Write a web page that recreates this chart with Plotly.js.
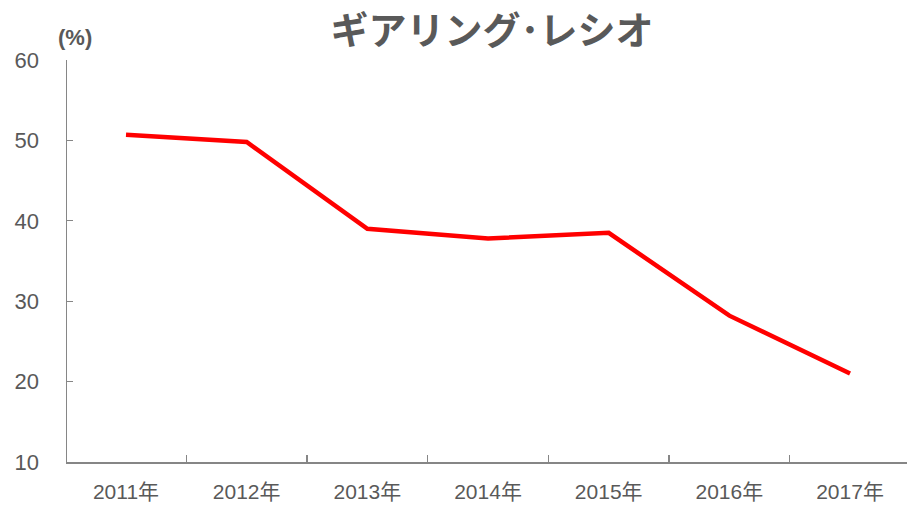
<!DOCTYPE html>
<html>
<head>
<meta charset="utf-8">
<script src="https://cdn.plot.ly/plotly-3.0.1.min.js"></script>
<style>html,body{margin:0;padding:0;overflow:hidden;background:#fff;}</style>
</head>
<body>
<div id="chart" style="width:907px;height:505px;"></div>
<script>
const years = ["2011年", "2012年", "2013年", "2014年", "2015年", "2016年", "2017年"];
const gearingRatio = [50.7, 49.8, 39.0, 37.8, 38.5, 28.2, 21.0];
const yTicks = [10, 20, 30, 40, 50, 60];
const titleText = "ギアリング･レシオ";
const unitText = "(%)";

const grey = "#595959";
const axisGrey = "#868686";

Plotly.newPlot("chart", [{
  type: "scatter",
  mode: "lines",
  x: years,
  y: gearingRatio,
  line: {color: "#ff0000", width: 4.5},
  hoverinfo: "skip"
}], {
  width: 907, height: 505,
  margin: {l: 67, r: 0, t: 60, b: 43},
  paper_bgcolor: "#ffffff",
  plot_bgcolor: "#ffffff",
  showlegend: false,
  title: {
    text: titleText,
    font: {family: "Noto Sans CJK JP", size: 38, color: grey, weight: 700},
    x: 492 / 907, xref: "container", xanchor: "center",
    y: 1 - 31 / 505, yref: "container", yanchor: "middle"
  },
  xaxis: {
    type: "category",
    range: [-0.489, 6.472],
    tickson: "boundaries",
    ticks: "inside", ticklen: 7, tickwidth: 1.3, tickcolor: axisGrey,
    showline: true, linecolor: axisGrey, linewidth: 1.5,
    showgrid: false, zeroline: false,
    tickfont: {family: "Liberation Sans, Noto Sans CJK JP", size: 21, color: grey},
    ticklabelstandoff: 10
  },
  yaxis: {
    range: [10, 60],
    tickvals: yTicks,
    ticks: "inside", ticklen: 6, tickwidth: 1.3, tickcolor: axisGrey,
    showline: true, linecolor: axisGrey, linewidth: 1.5,
    showgrid: false, zeroline: false,
    tickfont: {family: "Liberation Sans", size: 22, color: grey},
    ticklabelstandoff: 22
  },
  annotations: [{
    text: "<b>" + unitText + "</b>",
    xref: "paper", yref: "paper",
    x: (75 - 67) / 840, y: (505 - 43 - 37) / 402,
    xanchor: "center", yanchor: "middle",
    showarrow: false,
    font: {family: "Liberation Sans", size: 22, color: grey}
  }]
}, {displayModeBar: false, staticPlot: true});
</script>
</body>
</html>
